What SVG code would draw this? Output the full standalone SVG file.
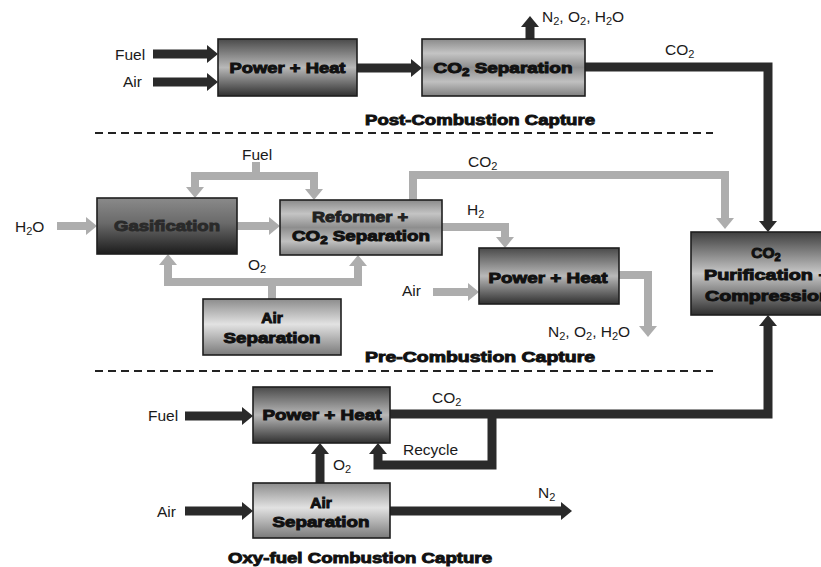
<svg xmlns="http://www.w3.org/2000/svg" width="821" height="567" viewBox="0 0 821 567">
<defs>
<style>
.lbl{font-family:"Liberation Sans",Arial,sans-serif;font-size:15.5px;fill:#1a1a1a}
.box{stroke:#1e1e1e;stroke-width:1.6}
.bt{font-family:"Liberation Sans",Arial,sans-serif;font-weight:bold;font-size:15.5px;fill:#111;stroke:#111;stroke-width:1;text-anchor:middle}
.title{font-family:"Liberation Sans",Arial,sans-serif;font-weight:bold;font-size:14.5px;fill:#111;stroke:#111;stroke-width:0.9}
.dk{fill:none;stroke:#2a2a2a;stroke-width:9;stroke-linejoin:miter}
.lt{fill:none;stroke:#adadad;stroke-width:8;stroke-linejoin:miter}
.dash{stroke:#222;stroke-width:2;stroke-dasharray:8 5;fill:none}
</style>
<linearGradient id="gPH" x1="0" y1="0" x2="0" y2="1">
<stop offset="0" stop-color="#4a4a4a"/><stop offset="0.5" stop-color="#b8b8b8"/><stop offset="1" stop-color="#303030"/>
</linearGradient>
<linearGradient id="gGas" x1="0" y1="0" x2="0" y2="1">
<stop offset="0" stop-color="#8a8a8a"/><stop offset="0.45" stop-color="#6a6a6a"/><stop offset="1" stop-color="#1c1c1c"/>
</linearGradient>
<linearGradient id="gAS" x1="0" y1="0" x2="0" y2="1">
<stop offset="0" stop-color="#8c8c8c"/><stop offset="0.45" stop-color="#e2e2e2"/><stop offset="1" stop-color="#7a7a7a"/>
</linearGradient>
<linearGradient id="gSep" x1="0" y1="0" x2="0" y2="1">
<stop offset="0" stop-color="#8a8a8a"/><stop offset="0.25" stop-color="#c4c4c4"/><stop offset="0.5" stop-color="#8e8e8e"/><stop offset="0.75" stop-color="#c0c0c0"/><stop offset="1" stop-color="#808080"/>
</linearGradient>
<linearGradient id="gPur" x1="0" y1="0" x2="0" y2="1">
<stop offset="0" stop-color="#3e3e3e"/><stop offset="0.5" stop-color="#c8c8c8"/><stop offset="1" stop-color="#2e2e2e"/>
</linearGradient>
<marker id="ad" markerUnits="userSpaceOnUse" markerWidth="12" markerHeight="20" viewBox="0 0 12 20" refX="1" refY="10" orient="auto-start-reverse">
<path d="M0,1 L11,10 L0,19 z" fill="#2a2a2a"/>
</marker>
<marker id="al" markerUnits="userSpaceOnUse" markerWidth="12" markerHeight="20" viewBox="0 0 12 20" refX="1" refY="10" orient="auto-start-reverse">
<path d="M0,1 L11,10 L0,19 z" fill="#adadad"/>
</marker>
</defs>
<rect width="821" height="567" fill="#ffffff"/>

<g id="connectors">
<path class="dk" d="M153,54 H208" marker-end="url(#ad)"/>
<path class="dk" d="M153,82 H208" marker-end="url(#ad)"/>
<path class="dk" d="M357,68 H412" marker-end="url(#ad)"/>
<path class="dk" d="M530,39 V26" marker-end="url(#ad)"/>
<path class="dk" d="M585,67 H768 V222" marker-end="url(#ad)"/>
<path class="dk" d="M390,414 H768 V325" marker-end="url(#ad)"/>
<path class="dk" d="M492,414 V465 H378 V453" marker-end="url(#ad)"/>
<path class="dk" d="M320,483 V453" marker-end="url(#ad)"/>
<path class="dk" d="M185,416 H243" marker-end="url(#ad)"/>
<path class="dk" d="M185,511 H243" marker-end="url(#ad)"/>
<path class="dk" d="M390,511 H562" marker-end="url(#ad)"/>

<path class="lt" d="M57,226 H87" marker-end="url(#al)"/>
<path class="lt" d="M237,226 H270" marker-end="url(#al)"/>
<path class="lt" d="M256,162 V176"/>
<path class="lt" d="M195,188 V176 H314 V190" marker-start="url(#al)" marker-end="url(#al)"/>
<path class="lt" d="M168,264 V282 H358 V265" marker-start="url(#al)" marker-end="url(#al)"/>
<path class="lt" d="M272,282 V299"/>
<path class="lt" d="M413,200 V175 H725 V219" marker-end="url(#al)"/>
<path class="lt" d="M442,227 H505 V238" marker-end="url(#al)"/>
<path class="lt" d="M433,292 H469" marker-end="url(#al)"/>
<path class="lt" d="M619,275 H648 V327" marker-end="url(#al)"/>
</g>

<g id="dividers">
<line class="dash" x1="95" y1="133" x2="713" y2="133"/>
<line class="dash" x1="95" y1="371" x2="713" y2="371"/>
</g>

<g id="post-power-heat">
<rect class="box" x="218" y="39" width="139" height="57" fill="url(#gPH)"/>
<text class="bt" x="287.5" y="73" textLength="116" lengthAdjust="spacingAndGlyphs">Power + Heat</text>
</g>
<g id="post-co2-separation">
<rect class="box" x="422" y="39" width="163" height="57" fill="url(#gSep)"/>
<text class="bt" x="503" y="73" textLength="139" lengthAdjust="spacingAndGlyphs">CO<tspan font-size="11" dy="3">2</tspan><tspan dy="-3"> Separation</tspan></text>
</g>
<g id="gasification">
<rect class="box" x="97" y="198" width="140" height="56" fill="url(#gGas)"/>
<text class="bt" x="167" y="231" textLength="106" lengthAdjust="spacingAndGlyphs" style="fill:#2a2a2a;stroke:#2a2a2a">Gasification</text>
</g>
<g id="reformer">
<rect class="box" x="280" y="200" width="162" height="55" fill="url(#gSep)"/>
<text class="bt" x="360" y="222" textLength="96" lengthAdjust="spacingAndGlyphs" style="fill:#222;stroke:#222">Reformer +</text>
<text class="bt" x="361" y="241" textLength="138" lengthAdjust="spacingAndGlyphs">CO<tspan font-size="11" dy="3">2</tspan><tspan dy="-3"> Separation</tspan></text>
</g>
<g id="pre-air-separation">
<rect class="box" x="203" y="299" width="138" height="56" fill="url(#gAS)"/>
<text class="bt" x="272" y="323">Air</text>
<text class="bt" x="272" y="343" textLength="97" lengthAdjust="spacingAndGlyphs">Separation</text>
</g>
<g id="pre-power-heat">
<rect class="box" x="479" y="248" width="140" height="56" fill="url(#gPH)"/>
<text class="bt" x="548" y="283" textLength="119" lengthAdjust="spacingAndGlyphs">Power + Heat</text>
</g>
<g id="purification">
<rect class="box" x="691" y="232" width="145" height="83" fill="url(#gPur)"/>
<text class="bt" x="766" y="258">CO<tspan font-size="11" dy="3">2</tspan></text>
<text class="bt" x="767" y="280" textLength="126" lengthAdjust="spacingAndGlyphs">Purification +</text>
<text class="bt" x="768" y="301" textLength="126" lengthAdjust="spacingAndGlyphs">Compression</text>
</g>
<g id="oxy-power-heat">
<rect class="box" x="253" y="387" width="137" height="56" fill="url(#gPH)"/>
<text class="bt" x="322" y="420" textLength="119" lengthAdjust="spacingAndGlyphs">Power + Heat</text>
</g>
<g id="oxy-air-separation">
<rect class="box" x="253" y="483" width="137" height="55" fill="url(#gAS)"/>
<text class="bt" x="321" y="508">Air</text>
<text class="bt" x="321" y="527" textLength="97" lengthAdjust="spacingAndGlyphs">Separation</text>
</g>

<g id="labels">
<text class="lbl" x="115" y="60">Fuel</text>
<text class="lbl" x="123" y="87">Air</text>
<text class="lbl" x="542" y="22">N<tspan font-size="11" dy="3">2</tspan><tspan dy="-3">, O</tspan><tspan font-size="11" dy="3">2</tspan><tspan dy="-3">, H</tspan><tspan font-size="11" dy="3">2</tspan><tspan dy="-3">O</tspan></text>
<text class="lbl" x="665" y="55">CO<tspan font-size="11" dy="3">2</tspan></text>
<text class="title" x="365" y="125" textLength="230" lengthAdjust="spacingAndGlyphs">Post-Combustion Capture</text>

<text class="lbl" x="242" y="160">Fuel</text>
<text class="lbl" x="15" y="232">H<tspan font-size="11" dy="3">2</tspan><tspan dy="-3">O</tspan></text>
<text class="lbl" x="248" y="270">O<tspan font-size="11" dy="3">2</tspan></text>
<text class="lbl" x="468" y="167">CO<tspan font-size="11" dy="3">2</tspan></text>
<text class="lbl" x="467" y="215">H<tspan font-size="11" dy="3">2</tspan></text>
<text class="lbl" x="402" y="296">Air</text>
<text class="lbl" x="548" y="337">N<tspan font-size="11" dy="3">2</tspan><tspan dy="-3">, O</tspan><tspan font-size="11" dy="3">2</tspan><tspan dy="-3">, H</tspan><tspan font-size="11" dy="3">2</tspan><tspan dy="-3">O</tspan></text>
<text class="title" x="365" y="362" textLength="230" lengthAdjust="spacingAndGlyphs">Pre-Combustion Capture</text>

<text class="lbl" x="148" y="421">Fuel</text>
<text class="lbl" x="432" y="403">CO<tspan font-size="11" dy="3">2</tspan></text>
<text class="lbl" x="403" y="455">Recycle</text>
<text class="lbl" x="333" y="470">O<tspan font-size="11" dy="3">2</tspan></text>
<text class="lbl" x="157" y="517">Air</text>
<text class="lbl" x="538" y="498">N<tspan font-size="11" dy="3">2</tspan></text>
<text class="title" x="228" y="563" textLength="264" lengthAdjust="spacingAndGlyphs">Oxy-fuel Combustion Capture</text>
</g>
</svg>
